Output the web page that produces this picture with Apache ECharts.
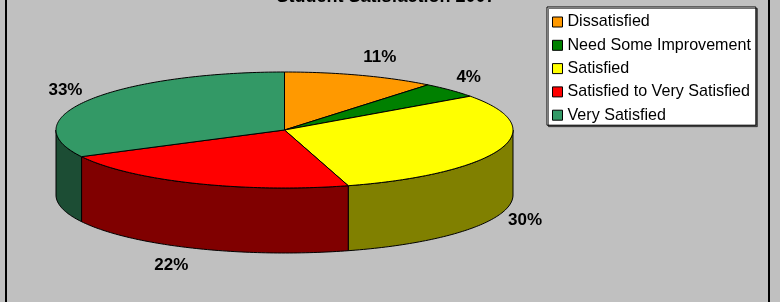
<!DOCTYPE html>
<html>
<head>
<meta charset="utf-8">
<script src="https://cdn.jsdelivr.net/npm/echarts@6/dist/echarts.min.js"></script>
<style>
html,body{margin:0;padding:0;background:#c0c0c0;}
#chart{width:780px;height:302px;}
</style>
</head>
<body>
<div id="chart"></div>
<script>
// ---- data ----
const chartTitle = 'Student Satisfaction 2007';
const categories = ['Dissatisfied', 'Need Some Improvement', 'Satisfied', 'Satisfied to Very Satisfied', 'Very Satisfied'];
const values = [10.8, 4.3, 30.4, 21.9, 32.6];

// ---- styles ----
const topColors = ['#FF9900', '#008000', '#FFFF00', '#FF0000', '#339966'];
const sideColors = ['#804C00', '#004000', '#808000', '#800000', '#1C4D34'];
const labelNudgeX = [0, 0, 0, -3, 0];

// ---- 3D pie layout ----
const PIE = { cx: 284.5, cy: 130, rx: 228.5, ry: 58, depth: 65 };
const FONT = 'Liberation Sans, Arial, sans-serif';

const total = values.reduce((a, b) => a + b, 0);
const cumStart = values.map((v, i) => values.slice(0, i).reduce((a, b) => a + b, 0));

function pt(theta, dy) {
  const r = theta * Math.PI / 180;
  return [PIE.cx + PIE.rx * Math.sin(r), PIE.cy - PIE.ry * Math.cos(r) + dy];
}
function arc(a, b, dy) {
  const n = Math.max(2, Math.ceil(Math.abs(b - a)) + 1);
  const pts = [];
  for (let k = 0; k < n; k++) pts.push(pt(a + (b - a) * k / (n - 1), dy));
  return pts;
}

function makeRender(i) {
  return function (params, api) {
    const v = api.value(0);
    const start = cumStart[i] / total * 360;
    const end = (cumStart[i] + v) / total * 360;
    const children = [];
    // side wall (visible front half only)
    const s = Math.max(start, 90), e = Math.min(end, 270);
    if (s < e) {
      const pts = arc(s, e, 0).concat(arc(e, s, PIE.depth));
      children.push({
        type: 'polygon', z2: 1,
        shape: { points: pts },
        style: { fill: sideColors[i], stroke: '#000', lineWidth: 1 }
      });
    }
    // top face
    const topPts = [[PIE.cx, PIE.cy]].concat(arc(start, end, 0));
    children.push({
      type: 'polygon', z2: 10,
      shape: { points: topPts },
      style: { fill: topColors[i], stroke: '#000', lineWidth: 1 }
    });
    // label
    const mid = (start + end) / 2 * Math.PI / 180;
    const sn = Math.sin(mid), cs = Math.cos(mid);
    const lx = PIE.cx + (PIE.rx + 8) * sn + labelNudgeX[i];
    const ly = PIE.cy - (PIE.ry + 19) * cs + (cs < 0 ? PIE.depth : 0);
    children.push({
      type: 'text', z2: 20,
      x: lx, y: ly,
      style: {
        text: Math.round(v / total * 100) + '%',
        align: sn >= 0 ? 'left' : 'right',
        verticalAlign: 'middle',
        font: 'bold 17px ' + FONT,
        fill: '#000'
      }
    });
    return { type: 'group', children: children };
  };
}

const series = categories.map((name, i) => ({
  type: 'custom',
  name: name,
  coordinateSystem: 'none',
  itemStyle: { color: topColors[i] },
  data: [values[i]],
  renderItem: makeRender(i),
  silent: true
}));

const chart = echarts.init(document.getElementById('chart'), null, { renderer: 'canvas' });
chart.setOption({
  animation: false,
  backgroundColor: '#c0c0c0',
  legend: {
    orient: 'vertical',
    left: 547, top: 7,
    data: categories,
    icon: 'rect',
    itemWidth: 10, itemHeight: 10,
    itemGap: 5.3,
    padding: [6, 5, 1, 5],
    selectedMode: false,
    backgroundColor: '#ffffff',
    borderColor: '#000',
    borderWidth: 1,
    shadowColor: 'rgba(0,0,0,0.55)',
    shadowOffsetX: 1.5,
    shadowOffsetY: 1.5,
    shadowBlur: 0,
    itemStyle: { borderColor: '#000', borderWidth: 1 },
    textStyle: { fontFamily: FONT, fontSize: 16.1, color: '#000', lineHeight: 18 }
  },
  graphic: [
    {
      type: 'rect', silent: true, z: -1,
      shape: { x: 6, y: -20, width: 763, height: 340 },
      style: { fill: 'none', stroke: '#000', lineWidth: 2 }
    },
    {
      type: 'text', silent: true,
      x: 386, y: -3,
      style: { text: chartTitle, align: 'center', verticalAlign: 'middle', font: 'bold 18px ' + FONT, fill: '#000' }
    }
  ],
  series: series
});
</script>
</body>
</html>
